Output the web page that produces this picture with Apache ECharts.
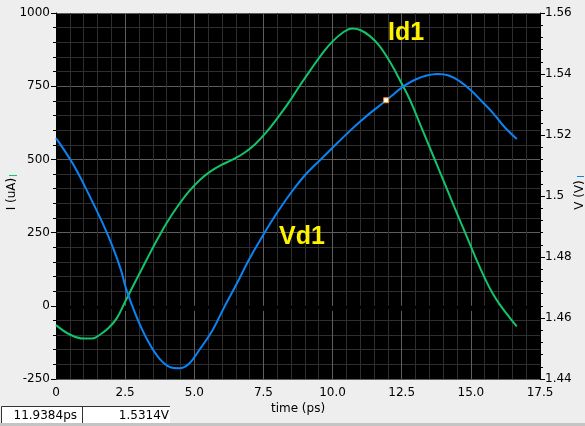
<!DOCTYPE html>
<html>
<head>
<meta charset="utf-8">
<script src="https://cdn.jsdelivr.net/npm/echarts@6/dist/echarts.min.js"></script>
<style>
html,body{margin:0;padding:0;background:#eeeeee;}
#chart{width:585px;height:426px;}
</style>
</head>
<body>
<div id="chart"></div>
<script>
// Id1 current (uA), left axis
const idTime = [0, 0.5, 1.0, 1.3, 1.6, 1.9, 2.2, 2.5, 2.8, 3.1, 3.4, 3.7, 4.0, 4.4, 4.8, 5.2, 5.6, 6.0, 6.4, 6.8, 7.2, 7.6, 8.0, 8.4, 8.8, 9.2, 9.6, 10.0, 10.4, 10.7, 11.0, 11.35, 11.7, 12.1, 12.45, 12.8, 13.2, 13.6, 14.0, 14.4, 14.8, 15.2, 15.5, 15.8, 16.1, 16.4, 16.66];
const idValues = [-66, -98, -112, -112, -98, -76, -42, 14, 70, 125, 180, 233, 283, 340, 390, 430, 460, 482, 500, 522, 552, 592, 640, 692, 750, 805, 858, 903, 935, 947, 942, 921, 887, 829, 768, 703, 612, 521, 430, 338, 248, 158, 95, 40, -3, -40, -70];
// Vd1 voltage (V), right axis
const vdTime = [0, 0.6, 1.2, 1.69, 2.05, 2.35, 2.53, 2.77, 3.07, 3.37, 3.74, 4.1, 4.46, 4.82, 5.18, 5.66, 6.09, 6.51, 7.0, 7.4, 7.8, 8.2, 8.6, 9.0, 9.4, 9.8, 10.2, 10.6, 11.0, 11.4, 11.8, 12.2, 12.6, 13.0, 13.4, 13.8, 14.2, 14.6, 15.0, 15.4, 15.8, 16.2, 16.66];
const vdValues = [1.519, 1.5107, 1.5003, 1.491, 1.4833, 1.4757, 1.4697, 1.4637, 1.4571, 1.4517, 1.4467, 1.444, 1.4435, 1.4451, 1.4495, 1.456, 1.4637, 1.4708, 1.4795, 1.4858, 1.4918, 1.4973, 1.5023, 1.5068, 1.5105, 1.514, 1.5176, 1.5211, 1.5244, 1.5275, 1.5303, 1.5333, 1.5362, 1.5382, 1.5395, 1.54, 1.5395, 1.5376, 1.5347, 1.531, 1.5272, 1.5228, 1.5187];
// cursor
const cursorTime = [11.9384];
const cursorValue = [1.5314];
const cursorText = ['11.9384ps', '1.5314V'];
// axis ranges / labels
const xRange = [0, 17.5, 2.5];
const yLeftRange = [-250, 1000, 250];
const yRightRange = [1.44, 1.56, 0.02];
const xName = 'time (ps)';
const yLeftName = 'I (uA)';
const yRightName = 'V (V)';
const seriesNames = ['Id1', 'Vd1'];

const GREEN = '#12c46a';
const BLUE = '#0a84f5';
const FONT = 'DejaVu Sans';

const chart = echarts.init(document.getElementById('chart'));
const tickStyle = {
  axisLine: {show: true, lineStyle: {color: '#000', width: 1}},
  axisTick: {show: true, length: 5, lineStyle: {color: '#000'}},
  minorTick: {show: true, splitNumber: 5, length: 3, lineStyle: {color: '#000'}},
  axisLabel: {color: '#000', fontFamily: FONT, fontSize: 12}
};
chart.setOption({
  backgroundColor: '#eeeeee',
  animation: false,
  grid: {left: 56, right: 45, top: 13, bottom: 47, show: true, backgroundColor: '#000', borderWidth: 0},
  xAxis: Object.assign({}, tickStyle, {
    type: 'value', min: xRange[0], max: xRange[1], interval: xRange[2],
    axisLabel: Object.assign({}, tickStyle.axisLabel, {margin: 8, formatter: v => v === 0 ? '0' : v.toFixed(1)}),
    splitLine: {show: true, lineStyle: {color: '#5e5e5e', width: 1}},
    minorSplitLine: {show: true, lineStyle: {color: '#2e2e2e', width: 1}}
  }),
  yAxis: [
    Object.assign({}, tickStyle, {
      type: 'value', position: 'left', min: yLeftRange[0], max: yLeftRange[1], interval: yLeftRange[2],
      axisLabel: Object.assign({}, tickStyle.axisLabel, {margin: 6, formatter: v => String(v)}),
      splitLine: {show: true, lineStyle: {color: '#5e5e5e', width: 1}},
      minorSplitLine: {show: true, lineStyle: {color: '#2e2e2e', width: 1}}
    }),
    Object.assign({}, tickStyle, {
      type: 'value', position: 'right', min: yRightRange[0], max: yRightRange[1], interval: yRightRange[2],
      axisLabel: Object.assign({}, tickStyle.axisLabel, {margin: 5, formatter: v => String(parseFloat(v.toFixed(2)))}),
      splitLine: {show: false},
      minorSplitLine: {show: false}
    })
  ],
  series: [
    {
      name: seriesNames[0], type: 'line', yAxisIndex: 0, smooth: 0.4, showSymbol: false,
      lineStyle: {color: GREEN, width: 2}, itemStyle: {color: GREEN},
      data: idTime.map((t, i) => [t, idValues[i]])
    },
    {
      name: seriesNames[1], type: 'line', yAxisIndex: 1, smooth: 0.4, showSymbol: false,
      lineStyle: {color: BLUE, width: 2}, itemStyle: {color: BLUE},
      data: vdTime.map((t, i) => [t, vdValues[i]])
    },
    {
      name: 'cursor', type: 'scatter', yAxisIndex: 1, symbol: 'rect', symbolSize: 5,
      itemStyle: {color: '#fff', borderColor: '#ff8a00', borderWidth: 1, opacity: 1},
      data: cursorTime.map((t, i) => [t, cursorValue[i]]), z: 5
    }
  ],
  graphic: [
    {type: 'text', x: 406, y: 33, style: {text: seriesNames[0], fill: '#fff200', font: 'bold 25px "Liberation Sans"', align: 'center', verticalAlign: 'middle'}, z: 10},
    {type: 'text', x: 302, y: 237, style: {text: seriesNames[1], fill: '#fff200', font: 'bold 25px "Liberation Sans"', align: 'center', verticalAlign: 'middle'}, z: 10},
    {type: 'text', x: 298, y: 409, style: {text: xName, fill: '#000', font: '12px "DejaVu Sans"', align: 'center', verticalAlign: 'middle'}},
    {type: 'text', x: 12, y: 194, rotation: Math.PI / 2, style: {text: yLeftName, fill: '#000', font: '12px "DejaVu Sans"', align: 'center', verticalAlign: 'middle'}},
    {type: 'line', shape: {x1: 9, y1: 175.5, x2: 17, y2: 175.5}, style: {stroke: GREEN, lineWidth: 1}},
    {type: 'text', x: 580, y: 195, rotation: Math.PI / 2, style: {text: yRightName, fill: '#000', font: '12px "DejaVu Sans"', align: 'center', verticalAlign: 'middle'}},
    {type: 'line', shape: {x1: 577, y1: 176.5, x2: 584, y2: 176.5}, style: {stroke: BLUE, lineWidth: 1}},
    {type: 'rect', shape: {x: 0, y: 423, width: 585, height: 3}, style: {fill: '#c4c4c4'}},
    {type: 'rect', shape: {x: 2, y: 407, width: 168, height: 16}, style: {fill: '#fff'}},
    {type: 'polyline', shape: {points: [[1.5, 423], [1.5, 406.5], [170, 406.5]]}, style: {stroke: '#333', fill: null, lineWidth: 1}},
    {type: 'line', shape: {x1: 82.5, y1: 407, x2: 82.5, y2: 423}, style: {stroke: '#333', lineWidth: 1}},
    {type: 'text', x: 77, y: 415.5, style: {text: cursorText[0], fill: '#000', font: '12px "DejaVu Sans"', align: 'right', verticalAlign: 'middle'}},
    {type: 'text', x: 169, y: 415.5, style: {text: cursorText[1], fill: '#000', font: '12px "DejaVu Sans"', align: 'right', verticalAlign: 'middle'}}
  ]
});
</script>
</body>
</html>
